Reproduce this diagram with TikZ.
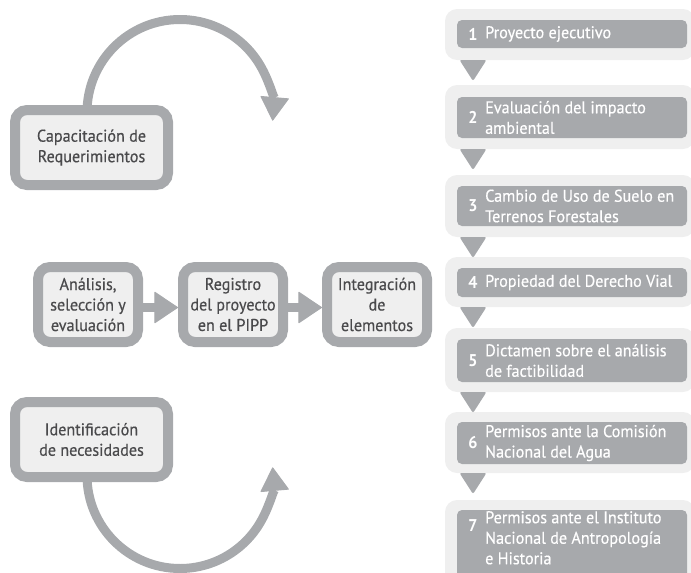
\documentclass[tikz,border=0pt]{standalone}
\usepackage{fontspec}
\setmainfont{PT Sans}[FakeStretch=0.95]
\newfontfamily\medfont{PT Sans}[FakeStretch=0.95,FakeBold=0.5]
\usetikzlibrary{arrows.meta}
\definecolor{gborder}{HTML}{A7A9AC}
\definecolor{glight}{HTML}{EFEFEF}
\definecolor{gtext}{HTML}{4A4A4C}
\pgfdeclarelayer{bg}
\pgfsetlayers{bg,main}
\begin{document}
\begin{tikzpicture}[x=1pt,y=1pt,
  bigbox/.style={draw=gborder, line width=10pt, fill=glight, rounded corners=12pt,
    align=center, text=gtext, font=\medfont\fontsize{17}{20.5}\selectfont, inner sep=0pt},
  loopline/.style={draw=gborder, line width=9pt, -{Triangle[width=29pt,length=24pt,line width=1pt,round]}},
  harrow/.style={draw=gborder, line width=9pt, -{Triangle[width=32pt,length=24pt,line width=1pt,round]}},
  outerbox/.style={fill=glight, rounded corners=12pt, minimum width=250pt, inner sep=0pt, outer sep=0pt, anchor=north west},
  innerbox/.style={fill=gborder, rounded corners=5pt, minimum width=230pt, inner sep=0pt, outer sep=0pt, anchor=north west},
  stepnum/.style={text=white, font=\fontsize{17}{20.5}\selectfont\bfseries, inner sep=0pt},
  steptext/.style={text=white, font=\medfont\fontsize{17}{20.5}\selectfont, align=left, anchor=west, inner sep=0pt},
  tri/.style={fill=gborder, rounded corners=2pt}
]
\useasboundingbox (0,0) rectangle (691,-573);

% left boxes
\node[bigbox, minimum width=153pt, minimum height=75pt] (cap) at (91.5,-147.5) {Capacitación de\\Requerimientos};
\node[bigbox, minimum width=153pt, minimum height=75pt] (idn) at (91.5,-439.5) {Identificación\\de necesidades};

% middle boxes
\node[bigbox, minimum width=100pt, minimum height=75pt] (b1) at (88,-304.5) {Análisis,\\selección y\\evaluación};
\node[bigbox, minimum width=100pt, minimum height=75pt] (b2) at (233,-304.5) {Registro\\del proyecto\\en el PIPP};
\node[bigbox, minimum width=100pt, minimum height=75pt] (b3) at (377,-304.5) {Integración\\de\\elementos};

\draw[harrow] ([yshift=-3pt]b1.east) -- ([yshift=-3pt]b2.west);
\draw[harrow] ([yshift=-3pt]b2.east) -- ([yshift=-3pt]b3.west);

\begin{pgfonlayer}{bg}
\draw[loopline] ([xshift=-4.5pt]cap.north) -- ++(0,-7.5) arc[start angle=180, end angle=-5, radius=93];
\draw[loopline] ([xshift=-4.5pt]idn.south) -- ++(0,6.5) arc[start angle=180, end angle=365, radius=93];
\end{pgfonlayer}

% right column
\node[outerbox, minimum height=51pt] (o1) at (445,-9) {};
\node[outerbox, minimum height=64pt] (o2) at (445,-85) {};
\node[outerbox, minimum height=62pt] (o3) at (445,-175) {};
\node[outerbox, minimum height=50pt] (o4) at (445,-257) {};
\node[outerbox, minimum height=64pt] (o5) at (445,-328) {};
\node[outerbox, minimum height=61pt] (o6) at (445,-412) {};
\node[outerbox, minimum height=100pt] (o7) at (445,-500) {};

\node[innerbox, minimum height=28pt] (i1) at (457,-20) {};
\node[innerbox, minimum height=41pt] (i2) at (457,-97) {};
\node[innerbox, minimum height=40pt] (i3) at (457,-186) {};
\node[innerbox, minimum height=29pt] (i4) at (457,-268) {};
\node[innerbox, minimum height=43pt] (i5) at (457,-339) {};
\node[innerbox, minimum height=42pt] (i6) at (457,-422) {};
\node[innerbox, minimum height=80pt] (i7) at (457,-510) {};

\node[stepnum] (n1) at ([xshift=16pt]i1.west) {1};
\node[steptext] (t1) at ([xshift=28pt]i1.west) {Proyecto ejecutivo};
\node[stepnum] (n2) at ([xshift=16pt]i2.west) {2};
\node[steptext] (t2) at ([xshift=28pt]i2.west) {Evaluación del impacto\\ambiental};
\node[stepnum] (n3) at ([xshift=16pt]i3.west) {3};
\node[steptext] (t3) at ([xshift=28pt]i3.west) {Cambio de Uso de Suelo en\\Terrenos Forestales};
\node[stepnum] (n4) at ([xshift=16pt]i4.west) {4};
\node[steptext] (t4) at ([xshift=28pt]i4.west) {Propiedad del Derecho Vial};
\node[stepnum] (n5) at ([xshift=16pt]i5.west) {5};
\node[steptext] (t5) at ([xshift=28pt]i5.west) {Dictamen sobre el análisis\\de factibilidad};
\node[stepnum] (n6) at ([xshift=16pt]i6.west) {6};
\node[steptext] (t6) at ([xshift=28pt]i6.west) {Permisos ante la Comisión\\Nacional del Agua};
\node[stepnum] (n7) at ([xshift=16pt,yshift=-16pt]i7.north west) {7};
\node[steptext, anchor=north west] (t7) at ([xshift=28pt,yshift=-1pt]i7.north west) {Permisos ante el Instituto\\Nacional de Antropología\\e Historia};

\foreach \o in {o1,o2,o3,o4,o5,o6}{
  \fill[tri] ([xshift=14.5pt]\o.south west) -- ([xshift=41.5pt]\o.south west) -- ([xshift=28pt,yshift=-21pt]\o.south west) -- cycle;
}
\end{tikzpicture}
\end{document}
